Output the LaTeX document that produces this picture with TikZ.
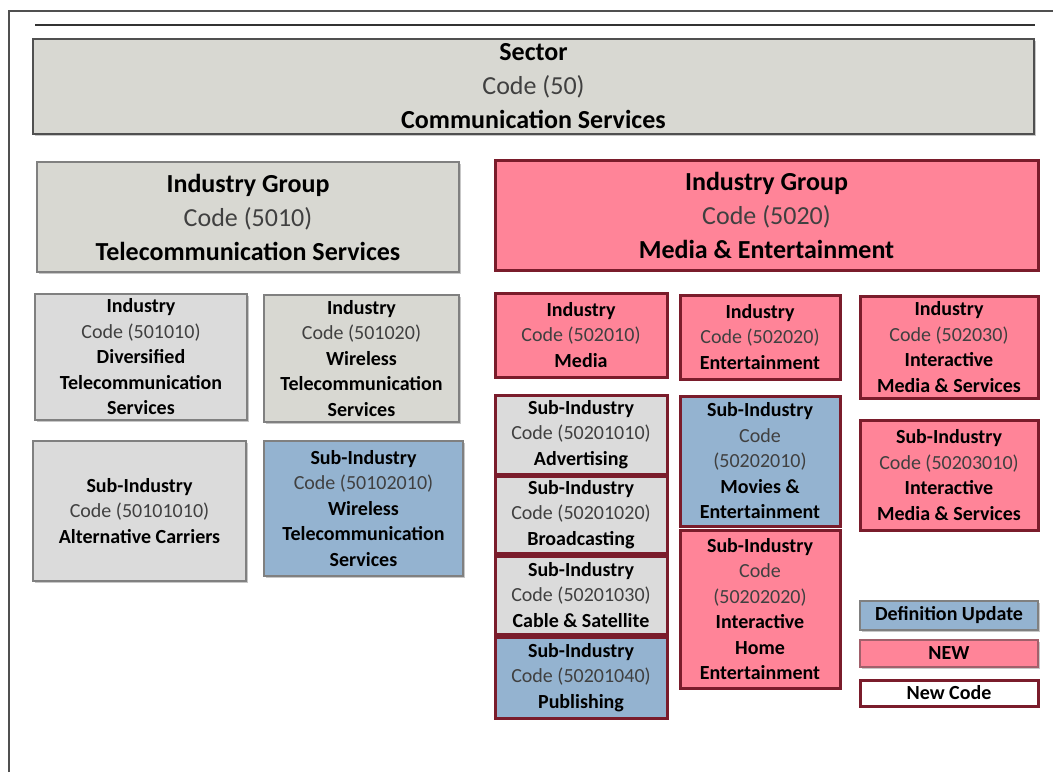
\documentclass[tikz,border=0pt]{standalone}
\usepackage{fontspec}
\setmainfont{Carlito}
\usetikzlibrary{shadows}
\definecolor{sectgray}{HTML}{D8D8D2}
\definecolor{lgray}{HTML}{DBDBDB}
\definecolor{pinkfill}{HTML}{FF8498}
\definecolor{bluefill}{HTML}{94B3D0}
\definecolor{redline}{HTML}{7A1C2B}
\definecolor{grayline}{HTML}{808080}
\definecolor{codegray}{HTML}{404040}
\definecolor{framegray}{HTML}{505050}
\newcommand\codetxt[1]{{\color{codegray}\mdseries #1}}
\tikzset{
  basebox/.style={anchor=north west, inner sep=0pt, outer sep=0pt,
    drop shadow={shadow xshift=1.5pt, shadow yshift=-1.5pt, fill=black, opacity=0.22}},
  graybox/.style={basebox, draw=grayline, line width=1.5pt, fill=lgray},
  sectbox/.style={basebox, draw=framegray, line width=1.8pt, fill=sectgray},
  pinkbox/.style={basebox, draw=redline, line width=3pt, fill=pinkfill},
  redgray/.style={basebox, draw=redline, line width=3pt, fill=lgray},
  redblue/.style={basebox, draw=redline, line width=3pt, fill=bluefill},
  bluebox/.style={basebox, draw=grayline, line width=1.5pt, fill=bluefill},
  txt/.style={align=center, inner sep=0pt, font=\fontsize{20}{25.5}\selectfont\bfseries},
  bigtxt/.style={align=center, inner sep=0pt, font=\fontsize{26}{34}\selectfont\bfseries},
  sz/.style 2 args={minimum width=#1pt, minimum height=#2pt}
}
\begin{document}
\begin{tikzpicture}[x=1pt, y=-1pt]
\useasboundingbox (0,0) rectangle (1053,772);
% page frame and rule
\draw[line width=2pt, framegray] (9,772) -- (9,11) -- (1053,11);
\draw[line width=2.8pt, black!80] (35,25) -- (1035,25);

% sector
\node[sectbox, sz={1001}{95}, label={[bigtxt]center:{Sector\\ \codetxt{Code (50)}\\ Communication Services}}] (sector) at (33,39) {};

% industry groups
\node[sectbox, draw=grayline, sz={422}{110}, label={[bigtxt]center:{Industry Group\\ \codetxt{Code (5010)}\\ Telecommunication Services}}] (ig5010) at (37,162) {};
\node[pinkbox, sz={543}{110}, label={[bigtxt]center:{Industry Group\\ \codetxt{Code (5020)}\\ Media \& Entertainment}}] (ig5020) at (495,160) {};

% telecommunication services branch
\node[graybox, sz={212}{126}, label={[txt]center:{Industry\\ \codetxt{Code (501010)}\\ Diversified\\ Telecommunication\\ Services}}] (i501010) at (35,294) {};
\node[graybox, fill=sectgray, sz={195}{127}, label={[txt]center:{Industry\\ \codetxt{Code (501020)}\\ Wireless\\ Telecommunication\\ Services}}] (i501020) at (264,295) {};
\node[graybox, sz={213}{140}, label={[txt]center:{Sub-Industry\\ \codetxt{Code (50101010)}\\ Alternative Carriers}}] (s50101010) at (33,441) {};
\node[bluebox, sz={199}{135}, label={[txt]center:{Sub-Industry\\ \codetxt{Code (50102010)}\\ Wireless\\ Telecommunication\\ Services}}] (s50102010) at (264,441) {};

% media & entertainment branch
\node[pinkbox, sz={172}{84}, label={[txt]center:{Industry\\ \codetxt{Code (502010)}\\ Media}}] (i502010) at (495,293) {};
\node[pinkbox, sz={160}{84}, label={[txt]center:{Industry\\ \codetxt{Code (502020)}\\ Entertainment}}] (i502020) at (680,295) {};
\node[pinkbox, sz={178}{102}, label={[txt]center:{Industry\\ \codetxt{Code (502030)}\\ Interactive\\ Media \& Services}}] (i502030) at (860,296) {};

\node[redgray, sz={172}{79}, label={[txt]center:{Sub-Industry\\ \codetxt{Code (50201010)}\\ Advertising}}] (s50201010) at (495,395) {};
\node[redgray, sz={172}{77}, label={[txt]center:{Sub-Industry\\ \codetxt{Code (50201020)}\\ Broadcasting}}] (s50201020) at (495,476) {};
\node[redgray, sz={172}{78}, label={[txt]center:{Sub-Industry\\ \codetxt{Code (50201030)}\\ Cable \& Satellite}}] (s50201030) at (495,556) {};
\node[redblue, sz={172}{81}, label={[txt]center:{Sub-Industry\\ \codetxt{Code (50201040)}\\ Publishing}}] (s50201040) at (495,637) {};

\node[redblue, sz={160}{130}, label={[txt]center:{Sub-Industry\\ \codetxt{Code}\\ \codetxt{(50202010)}\\ Movies \&\\ Entertainment}}] (s50202010) at (680,396) {};
\node[pinkbox, sz={160}{158}, label={[txt]center:{Sub-Industry\\ \codetxt{Code}\\ \codetxt{(50202020)}\\ Interactive\\ Home\\ Entertainment}}] (s50202020) at (680,530) {};
\node[pinkbox, sz={178}{110}, label={[txt]center:{Sub-Industry\\ \codetxt{Code (50203010)}\\ Interactive\\ Media \& Services}}] (s50203010) at (860,420) {};

% legend
\node[bluebox, sz={178}{29}, label={[txt]center:{Definition Update}}] (legdef) at (860,601) {};
\node[pinkbox, line width=1.5pt, draw=redline!70, sz={178}{27}, label={[txt]center:{NEW}}] (legnew) at (860,640) {};
\node[pinkbox, fill=white, sz={178}{26}, label={[txt]center:{New Code}}] (legcode) at (860,680) {};
\end{tikzpicture}
\end{document}
